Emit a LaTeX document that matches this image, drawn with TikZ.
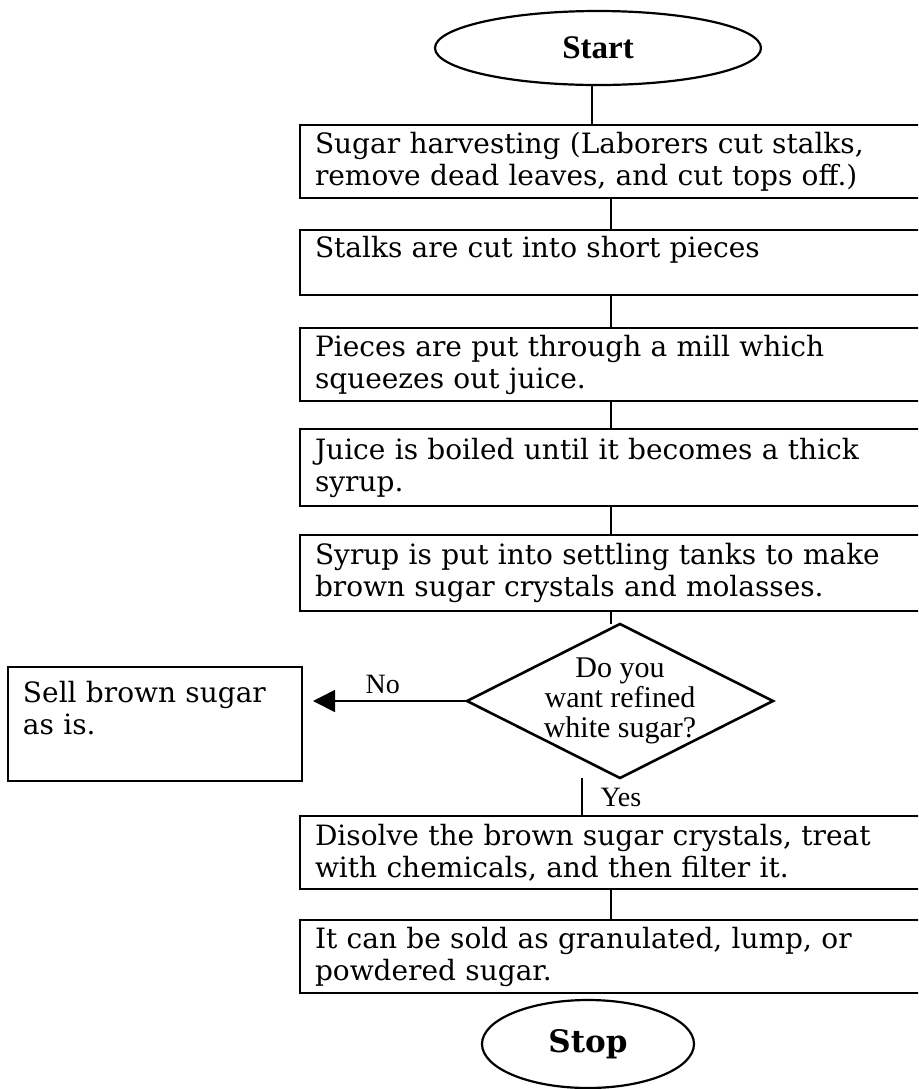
\documentclass[tikz,border=0pt]{standalone}
\usepackage{fontspec}
\setmainfont{DejaVu Serif}
\newfontfamily\timesfont{Liberation Serif}
\usetikzlibrary{positioning,shapes.geometric,arrows.meta}

\begin{document}
\begin{tikzpicture}
[x=0.5pt, y=-0.5pt,
% STYLES
% The stepbox style is used for every step of the process
stepbox/.style={rectangle, draw, line width=1.3pt, outer sep=0pt, inner xsep=7.5pt, inner ysep=2pt, text width=305pt, align=left, minimum height=36.5pt, font=\fontsize{14pt}{16pt}\selectfont},
% The terminal style is used for start and stop
terminal/.style={ellipse, draw, line width=1.1pt, outer sep=0pt, inner sep=0pt},
% The decision style is used for the question
decision/.style={diamond, draw, line width=1.3pt, outer sep=0pt, inner sep=0pt, minimum width=153pt, minimum height=77pt},
asktext/.style={align=center, inner sep=0pt, font=\timesfont\fontsize{15pt}{15pt}\selectfont},
answer/.style={font=\timesfont\fontsize{14pt}{14pt}\selectfont},
link/.style={line width=0.85pt}]

\useasboundingbox (0,0) rectangle (918,1089);
\clip (0,0) rectangle (918,1089);

% Draw terminals and steps
\node [terminal, minimum width=163pt, minimum height=37pt, font=\timesfont\bfseries\fontsize{16.5pt}{16.5pt}\selectfont] (start) at (598,48) {Start};
\node [stepbox, anchor=north] (harvest) at (620,125) {Sugar harvesting (Laborers cut stalks,\\remove dead leaves, and cut tops off.)};
\node [stepbox, minimum height=32.5pt, below=16pt of harvest] (cut) {Stalks are cut into short pieces\\\mbox{}};
\node [stepbox, below=16.5pt of cut] (mill) {Pieces are put through a mill which\\squeezes out juice.};
\node [stepbox, minimum height=38.5pt, below=14pt of mill] (boil) {Juice is boiled until it becomes a thick\\syrup.};
\node [stepbox, minimum height=38pt, below=14.5pt of boil] (settle) {Syrup is put into settling tanks to make\\brown sugar crystals and molasses.};
\node [decision, below=6.5pt of settle] (ask) {};
\node [asktext] (asklabel) at (ask) {Do you\\want refined\\white sugar?};
\node [stepbox, text width=132pt, minimum height=57pt, left=82.5pt of ask, yshift=-11.5pt] (sell) {Sell brown sugar\\as is.\\\mbox{}};
\node [stepbox, below=19pt of ask] (dissolve) {Disolve the brown sugar crystals, treat\\with chemicals, and then filter it.};
\node [stepbox, below=15.5pt of dissolve] (sold) {It can be sold as granulated, lump, or\\powdered sugar.};
\node [terminal, minimum width=106pt, minimum height=44pt, font=\bfseries\fontsize{15.5pt}{15.5pt}\selectfont, below=3.5pt of sold, xshift=-16pt] (stop) {Stop};

%%%%%%%%%%%%%%%
% Draw the links between steps
\coordinate (spine) at (611,0);

\draw [link] ([xshift=-3pt]start.south) -- ([xshift=-3pt]start.south |- harvest.north);
\draw [link] (harvest.south -| spine) -- (cut.north -| spine);
\draw [link] (cut.south -| spine) -- (mill.north -| spine);
\draw [link] (mill.south -| spine) -- (boil.north -| spine);
\draw [link] (boil.south -| spine) -- (settle.north -| spine);
\draw [link] (settle.south -| spine) -- (ask.north -| spine);
\draw [link, -{Triangle[length=11pt, width=11pt]}, shorten >=5.5pt] (ask.west) -- (sell.east |- ask.west) node [answer, pos=0.51, above] {No};
\draw [link] ([xshift=-19pt]ask.south) -- ([xshift=-19pt]ask.south |- dissolve.north) node [answer, midway, right, xshift=5.5pt] {Yes};
\draw [link] (dissolve.south -| spine) -- (sold.north -| spine);

\end{tikzpicture}
\end{document}
